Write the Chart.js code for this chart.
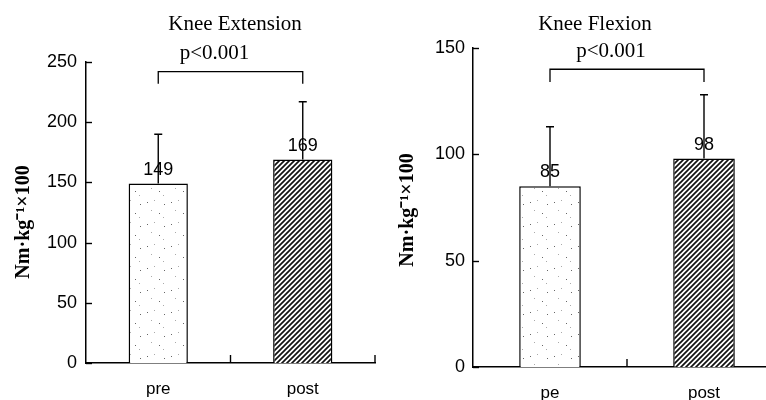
<!DOCTYPE html>
<html>
<head>
<meta charset="utf-8">
<script src="https://cdn.jsdelivr.net/npm/chart.js@4.4.1/dist/chart.umd.min.js"></script>
<style>
  html, body { margin: 0; padding: 0; background: #fff; overflow: hidden; }
  #wrap { position: relative; width: 766px; height: 400px; }
  .box { position: absolute; top: 0; height: 400px; }
</style>
</head>
<body>
<div id="wrap">
  <div class="box" style="left:0;width:383px"><canvas id="ext"></canvas></div>
  <div class="box" style="left:383px;width:400px"><canvas id="flex"></canvas></div>
</div>
<script>
// ---- data ----
const extLabels = ['pre', 'post'];
const extMeans = [149, 169];
const extSD = [41, 48];
const extTicks = [0, 50, 100, 150, 200, 250];
const extBracket = [242, 232];   // bar level, leg end

const flexLabels = ['pe', 'post'];
const flexMeans = [85, 98];
const flexSD = [28, 30];
const flexTicks = [0, 50, 100, 150];
const flexBracket = [140, 134];

const pText = 'p<0.001';
const yTitle = 'Nm\u00B7kg\u207B\u00B9\u00D7100';

Chart.defaults.color = '#000';

// fill patterns
function dotPattern() {
  const c = document.createElement('canvas');
  c.width = 24; c.height = 22;
  const g = c.getContext('2d');
  g.fillStyle = '#fff'; g.fillRect(0, 0, 24, 22);
  g.fillStyle = '#666';
  g.fillRect(3, 4, 1, 1);
  g.fillRect(15, 15, 1, 1);
  g.fillRect(20, 6, 1, 1);
  g.fillStyle = '#aaa';
  g.fillRect(10, 2, 1, 1);
  g.fillRect(7, 12, 1, 1);
  g.fillRect(19, 19, 1, 1);
  return g.createPattern(c, 'repeat');
}
function hatchPattern() {
  const s = 5;
  const c = document.createElement('canvas');
  c.width = s; c.height = s;
  const g = c.getContext('2d');
  g.fillStyle = '#fff'; g.fillRect(0, 0, s, s);
  g.strokeStyle = '#111'; g.lineWidth = 1.7;
  g.beginPath();
  g.moveTo(-1, s + 1); g.lineTo(s + 1, -1);
  g.moveTo(-1, 1); g.lineTo(1, -1);
  g.moveTo(s - 1, s + 1); g.lineTo(s + 1, s - 1);
  g.stroke();
  return g.createPattern(c, 'repeat');
}

// error bars, value labels, bracket, texts and inward ticks
const extras = {
  id: 'extras',
  afterDatasetsDraw(chart, args, o) {
    const ctx = chart.ctx;
    const y = chart.scales.y;
    const meta = chart.getDatasetMeta(0);
    const means = chart.data.datasets[0].data;
    const a = chart.chartArea;
    ctx.save();
    ctx.strokeStyle = '#000';
    ctx.fillStyle = '#000';
    ctx.lineWidth = 1.4;

    // inward ticks on y axis
    o.ticks.forEach(t => {
      const py = Math.round(y.getPixelForValue(t)) + 0.5;
      ctx.beginPath(); ctx.moveTo(a.left, py); ctx.lineTo(a.left + 6, py); ctx.stroke();
    });
    // inward ticks on x axis at category boundaries
    const n = means.length;
    for (let i = 1; i <= n; i++) {
      const px = a.left + (a.right - a.left) * i / n;
      ctx.beginPath(); ctx.moveTo(px, a.bottom); ctx.lineTo(px, a.bottom - 8); ctx.stroke();
    }

    // error bars (upward only)
    meta.data.forEach((bar, i) => {
      const top = y.getPixelForValue(means[i] + o.sd[i]);
      ctx.beginPath();
      ctx.moveTo(bar.x, bar.y); ctx.lineTo(bar.x, top);
      ctx.moveTo(bar.x - 4, top); ctx.lineTo(bar.x + 4, top);
      ctx.stroke();
    });

    // value labels
    ctx.font = '18px "Liberation Sans", Arial, sans-serif';
    ctx.textAlign = 'center';
    ctx.textBaseline = 'alphabetic';
    meta.data.forEach((bar, i) => {
      ctx.fillText(String(means[i]), bar.x, bar.y - 9);
    });

    // bracket
    const x1 = meta.data[0].x, x2 = meta.data[1].x;
    const by = y.getPixelForValue(o.bracket[0]);
    const ly = y.getPixelForValue(o.bracket[1]);
    ctx.lineWidth = 1.3;
    ctx.beginPath();
    ctx.moveTo(x1, ly); ctx.lineTo(x1, by); ctx.lineTo(x2, by); ctx.lineTo(x2, ly);
    ctx.stroke();

    // p value and title
    ctx.font = '21px "Liberation Serif", "Times New Roman", serif';
    ctx.textBaseline = 'middle';
    ctx.fillText(pText, (x1 + x2) / 2 - 16, by - 18);
    ctx.fillText(o.title, o.titleX, 24);

    // y axis title
    ctx.font = 'bold 20px "Liberation Serif", "Times New Roman", serif';
    ctx.translate(o.yTitleX, o.yTitleY);
    ctx.rotate(-Math.PI / 2);
    ctx.fillText(yTitle, 0, 0);
    ctx.restore();
  }
};

function makeChart(id, labels, means, sd, ticks, bracket, cfg) {
  return new Chart(document.getElementById(id), {
    type: 'bar',
    data: {
      labels: labels,
      datasets: [{
        data: means,
        backgroundColor: [dotPattern(), hatchPattern()],
        borderColor: '#000',
        borderWidth: 1.5,
        barPercentage: cfg.barPct,
        categoryPercentage: 1
      }]
    },
    options: {
      responsive: true,
      maintainAspectRatio: false,
      animation: false,
      layout: { padding: { top: cfg.top, right: cfg.right, left: 0, bottom: 0 } },
      plugins: {
        legend: { display: false },
        tooltip: { enabled: false },
        extras: { sd: sd, ticks: ticks, bracket: bracket, title: cfg.title,
                  titleX: cfg.titleX, yTitleX: cfg.yTitleX, yTitleY: cfg.yTitleY }
      },
      scales: {
        x: {
          grid: { display: false, drawTicks: false },
          border: { display: true, color: '#000', width: 1.5 },
          ticks: { padding: 16, font: { family: '"Liberation Sans", Arial, sans-serif', size: 17 } },
          afterFit: s => { s.height = cfg.xH; }
        },
        y: {
          min: 0,
          max: ticks[ticks.length - 1],
          grid: { display: false, drawTicks: false },
          border: { display: true, color: '#000', width: 1.5 },
          ticks: { stepSize: 50, padding: cfg.tickPad,
                   font: { family: '"Liberation Sans", Arial, sans-serif', size: 18 } },
          afterFit: s => { s.width = cfg.yW; }
        }
      }
    },
    plugins: [extras]
  });
}

makeChart('ext', extLabels, extMeans, extSD, extTicks, extBracket, {
  title: 'Knee Extension', titleX: 235, top: 62, right: 8, xH: 37, yW: 86,
  tickPad: 9, barPct: 0.41, yTitleX: 24, yTitleY: 222
});
makeChart('flex', flexLabels, flexMeans, flexSD, flexTicks, flexBracket, {
  title: 'Knee Flexion', titleX: 212, top: 48, right: 2, xH: 33, yW: 90,
  tickPad: 8, barPct: 0.40, yTitleX: 25, yTitleY: 210
});
</script>
</body>
</html>
